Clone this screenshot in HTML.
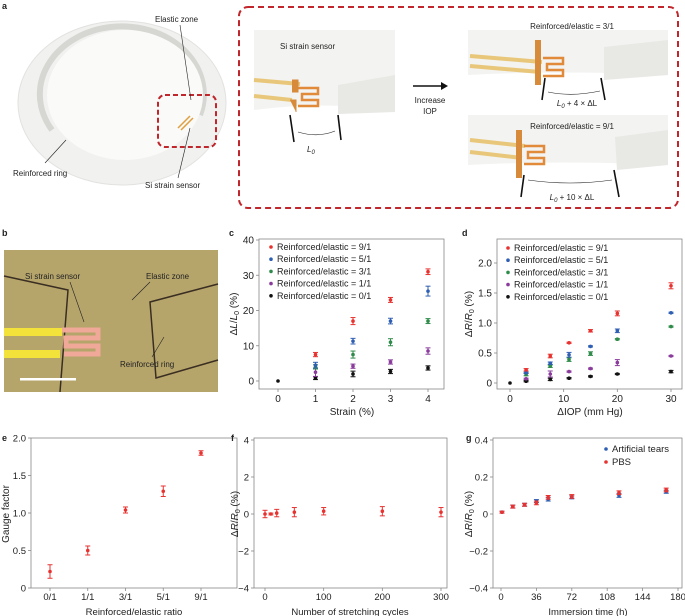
<!DOCTYPE html>
<html><head><meta charset="utf-8">
<style>
body{margin:0;background:#fff;}
svg{display:block;font-family:"Liberation Sans",Arial,sans-serif;}
text{fill:#222;}
</style></head>
<body>
<svg id="fig" width="685" height="616" viewBox="0 0 685 616" xmlns="http://www.w3.org/2000/svg">
<!-- Panel a -->
<g>
<text x="2" y="9" font-size="9" font-weight="bold">a</text>
<ellipse cx="122" cy="103" rx="104" ry="82" fill="#f1f1ef" stroke="#e2e2e0"/>
<path d="M52,130 A82,68 0 1,1 200,115" fill="none" stroke="#d6d6d2" stroke-width="6"/>
<ellipse cx="125" cy="95" rx="78" ry="65" fill="#fafaf9"/>
<rect x="158" y="95" width="58" height="52" rx="7" fill="none" stroke="#c0272d" stroke-width="2" stroke-dasharray="5,3"/>
<path d="M178,128 l12,-12 M181,130 l12,-12" stroke="#e0a040" stroke-width="1.5"/>
<text x="155" y="22" font-size="8">Elastic zone</text>
<line x1="180" y1="25" x2="191" y2="100" stroke="#222" stroke-width="0.6"/>
<text x="145" y="188" font-size="8">Si strain sensor</text>
<line x1="178" y1="178" x2="190" y2="128" stroke="#222" stroke-width="0.6"/>
<text x="13" y="176" font-size="8">Reinforced ring</text>
<line x1="45" y1="163" x2="66" y2="140" stroke="#222" stroke-width="0.6"/>
<rect x="239" y="7" width="439" height="201" rx="9" fill="none" stroke="#c0272d" stroke-width="2" stroke-dasharray="6,4"/>
<path d="M254,30 L395,30 L395,112 Q330,100 254,110 Z" fill="#f3f3f1"/>
<path d="M338,85 L395,75 L395,112 L338,114 Z" fill="#e8e8e5"/>
<path d="M254,80 L300,84 M254,96 L292,100" stroke="#e9c77a" stroke-width="4"/>
<path d="M292,80 h6 v12 h-6 M290,100 h6 v12" fill="#d68a3a" stroke="#d68a3a"/>
<path d="M298,88 h20 v6 h-16 v6 h16 v6 h-20" fill="none" stroke="#e08a3a" stroke-width="2.5"/>
<text x="280" y="49" font-size="8">Si strain sensor</text>
<line x1="290" y1="115" x2="294" y2="142" stroke="#111" stroke-width="1.6"/>
<line x1="338" y1="115" x2="341" y2="140" stroke="#111" stroke-width="1.6"/>
<path d="M298,132 Q318,138 335,131" fill="none" stroke="#222" stroke-width="0.6"/>
<text x="307" y="152" font-size="8" font-style="italic">L<tspan font-size="6" dy="2">0</tspan></text>
<line x1="413" y1="86" x2="443" y2="86" stroke="#111" stroke-width="1.5"/>
<path d="M441,82 L448,86 L441,90 Z" fill="#111"/>
<text x="430" y="103" font-size="8" text-anchor="middle">Increase</text>
<text x="430" y="114" font-size="8" text-anchor="middle">IOP</text>
<path d="M468,30 L668,30 L668,75 Q560,70 468,75 Z" fill="#f3f3f1"/>
<path d="M604,47 L668,40 L668,75 L604,80 Z" fill="#e8e8e5"/>
<path d="M470,56 L542,62 M470,66 L540,72" stroke="#e9c77a" stroke-width="4"/>
<rect x="535" y="40" width="6" height="45" fill="#d68a3a"/>
<path d="M543,58 h20 v6 h-16 v6 h16 v6 h-20" fill="none" stroke="#e08a3a" stroke-width="2.5"/>
<text x="572" y="29" font-size="8" text-anchor="middle">Reinforced/elastic = 3/1</text>
<line x1="545" y1="78" x2="542" y2="100" stroke="#111" stroke-width="1.6"/>
<line x1="601" y1="78" x2="605" y2="100" stroke="#111" stroke-width="1.6"/>
<path d="M548,92 Q572,97 600,91" fill="none" stroke="#222" stroke-width="0.6"/>
<text x="577" y="106" font-size="8" text-anchor="middle" font-style="italic">L<tspan font-size="6" dy="2">0</tspan><tspan dy="-2" font-style="normal"> + 4 × ΔL</tspan></text>
<path d="M468,115 L668,115 L668,165 Q560,160 468,165 Z" fill="#f3f3f1"/>
<path d="M615,137 L668,130 L668,165 L617,170 Z" fill="#e8e8e5"/>
<path d="M470,140 L525,146 M470,152 L522,158" stroke="#e9c77a" stroke-width="4"/>
<rect x="516" y="130" width="6" height="48" fill="#d68a3a"/>
<path d="M524,146 h20 v6 h-16 v6 h16 v6 h-20" fill="none" stroke="#e08a3a" stroke-width="2.5"/>
<text x="572" y="129" font-size="8" text-anchor="middle">Reinforced/elastic = 9/1</text>
<line x1="524" y1="175" x2="521" y2="197" stroke="#111" stroke-width="1.6"/>
<line x1="614" y1="170" x2="619" y2="197" stroke="#111" stroke-width="1.6"/>
<path d="M528,180 Q570,186 612,180" fill="none" stroke="#222" stroke-width="0.6"/>
<text x="572" y="200" font-size="8" text-anchor="middle" font-style="italic">L<tspan font-size="6" dy="2">0</tspan><tspan dy="-2" font-style="normal"> + 10 × ΔL</tspan></text>
</g>
<!-- Panel b -->
<g>
<text x="2" y="236" font-size="9" font-weight="bold">b</text>
<rect x="4" y="250" width="214" height="142" fill="#b6a56b"/>
<path d="M4,276 L68,290 L60,392" fill="none" stroke="#3a2e22" stroke-width="1.5"/>
<path d="M218,284 L150,302 L156,378 L218,360" fill="none" stroke="#3a2e22" stroke-width="1.5"/>
<rect x="4" y="328" width="58" height="8" fill="#f2e23a"/>
<rect x="4" y="350" width="56" height="8" fill="#f2e23a"/>
<path d="M62,330 h36 v8 h-32 v8 h32 v8 h-34" fill="none" stroke="#f0a898" stroke-width="5"/>
<text x="25" y="279" font-size="8" fill="#222">Si strain sensor</text>
<line x1="70" y1="282" x2="84" y2="322" stroke="#222" stroke-width="0.6"/>
<text x="146" y="279" font-size="8">Elastic zone</text>
<line x1="150" y1="282" x2="132" y2="300" stroke="#222" stroke-width="0.6"/>
<text x="120" y="367" font-size="8">Reinforced ring</text>
<line x1="152" y1="357" x2="164" y2="337" stroke="#222" stroke-width="0.6"/>
<rect x="20" y="378" width="56" height="2.5" fill="#fff"/>
</g>
<g id="charts"></g>
</svg>
<script>
// ---- Panel c data ----
const cStrain = [1, 2, 3, 4];
const cR91 = [7.5, 17, 23, 31];
const cR51 = [4.5, 11.3, 17, 25.5];
const cR31 = [4, 7.5, 11, 17];
const cR11 = [2.5, 4.2, 5.4, 8.5];
const cR01 = [0.8, 2, 2.7, 3.7];
const cE91 = [0.6, 1, 0.7, 0.8];
const cE51 = [0.8, 0.8, 0.8, 1.4];
const cE31 = [0.6, 1, 1, 0.7];
const cE11 = [1.2, 0.6, 0.6, 0.9];
const cE01 = [0.4, 0.8, 0.6, 0.6];
const cYTicks = [0, 10, 20, 30, 40];
const cXTicks = [0, 1, 2, 3, 4];
// ---- Panel d data ----
const dIOP = [3, 7.5, 11, 15, 20, 30];
const dR91 = [0.22, 0.45, 0.67, 0.87, 1.16, 1.62];
const dR51 = [0.17, 0.33, 0.47, 0.61, 0.87, 1.17];
const dR31 = [0.14, 0.28, 0.39, 0.49, 0.73, 0.94];
const dR11 = [0.07, 0.15, 0.19, 0.24, 0.34, 0.45];
const dR01 = [0.03, 0.06, 0.08, 0.11, 0.15, 0.19];
const dE91 = [0.02, 0.03, 0.01, 0.02, 0.04, 0.05];
const dE51 = [0.01, 0.02, 0.04, 0.01, 0.03, 0.01];
const dE31 = [0.02, 0.02, 0.03, 0.03, 0.01, 0.01];
const dE11 = [0.01, 0.05, 0.01, 0.01, 0.05, 0.01];
const dE01 = [0.01, 0.02, 0.01, 0.01, 0.01, 0.02];
const dYTicks = [0, 0.5, 1.0, 1.5, 2.0];
const dXTicks = [0, 10, 20, 30];
// ---- Panel e data ----
const eCats = ["0/1", "1/1", "3/1", "5/1", "9/1"];
const eGF = [0.22, 0.5, 1.04, 1.29, 1.8];
const eErr = [0.09, 0.06, 0.04, 0.07, 0.03];
const eYTicks = [0, 0.5, 1.0, 1.5, 2.0];
// ---- Panel f data ----
const fCycles = [0, 10, 20, 50, 100, 200, 300];
const fVals = [0, 0, 0.05, 0.1, 0.15, 0.15, 0.1];
const fErr = [0.2, 0.05, 0.2, 0.25, 0.2, 0.25, 0.25];
const fYTicks = [-4, -2, 0, 2, 4];
const fXTicks = [0, 100, 200, 300];
// ---- Panel g data ----
const gTimes = [1, 12, 24, 36, 48, 72, 120, 168];
const gPBS = [0.01, 0.04, 0.05, 0.06, 0.09, 0.095, 0.115, 0.13];
const gTears = [0.01, 0.04, 0.05, 0.07, 0.08, 0.09, 0.10, 0.12];
const gErrPBS = [0.005, 0.008, 0.008, 0.01, 0.01, 0.01, 0.01, 0.01];
const gErrTears = [0.005, 0.008, 0.008, 0.008, 0.01, 0.008, 0.01, 0.008];
const gYTicks = [-0.4, -0.2, 0, 0.2, 0.4];
const gXTicks = [0, 36, 72, 108, 144, 180];

const RED = "#e8322f", BLUE = "#2f5fb3", GREEN = "#2e8b4a", PURPLE = "#8a3b9c", BLACK = "#111";
const NS = "http://www.w3.org/2000/svg";
const root = document.getElementById("charts");
function mk(tag, attrs, parent) {
  const el = document.createElementNS(NS, tag);
  for (const k in attrs) el.setAttribute(k, attrs[k]);
  (parent || root).appendChild(el);
  return el;
}
function scale(d0, d1, r0, r1) { return v => r0 + (v - d0) * (r1 - r0) / (d1 - d0); }

function axesBox(name, L, T, R, B, xTicks, yTicks, xPos, yPos, xLabelFn, yLabelFn, xLabOff, fs) {
  fs = fs || 10;
  const g = mk("g", {});
  
  
  const box = mk("rect", { x: L, y: T, width: R - L, height: B - T, fill: "none", stroke: "#888", "stroke-width": 0.8 }, g);
  
  
  yTicks.forEach(t => {
    const y = yPos(t);
    mk("line", { x1: L - 3, x2: L, y1: y, y2: y, stroke: "#888", "stroke-width": 0.8 }, g);
    const tx = mk("text", { x: L - 5, y: y + 3.5, "font-size": fs, "text-anchor": "end" }, g);
    tx.textContent = yLabelFn(t);
    
    
  });
  xTicks.forEach((t, i) => {
    const x = xPos(t, i);
    mk("line", { x1: x, x2: x, y1: B, y2: B + 3, stroke: "#888", "stroke-width": 0.8 }, g);
    const tx = mk("text", { x: x, y: B + (xLabOff || 13), "font-size": fs, "text-anchor": "middle" }, g);
    tx.textContent = xLabelFn(t);
    
    
  });
  return g;
}
function point(g, x, v, e, yf, color, name) {
  const grp = mk("g", {}, g);
  
  
  if (e > 0) {
    const y1 = yf(v - e), y2 = yf(v + e);
    mk("line", { x1: x, x2: x, y1: y1, y2: y2, stroke: color, "stroke-width": 1 }, grp);
    mk("line", { x1: x - 2.5, x2: x + 2.5, y1: y1, y2: y1, stroke: color, "stroke-width": 1 }, grp);
    mk("line", { x1: x - 2.5, x2: x + 2.5, y1: y2, y2: y2, stroke: color, "stroke-width": 1 }, grp);
  }
  mk("circle", { cx: x, cy: yf(v), r: 1.8, fill: color }, grp);
}
function txt(s, attrs, name) {
  const t = mk("text", attrs);
  t.textContent = s;
  
  
  return t;
}
function ytitle(x, y, parts, name) {
  const t = mk("text", { x: 0, y: 0, "font-size": 10, "text-anchor": "middle", transform: `translate(${x},${y}) rotate(-90)` });
  t.innerHTML = parts;
  
  
}
function legend(x0, y0, dy, entries, name, fs) {
  entries.forEach((en, i) => {
    const g = mk("g", {});
    
    
    mk("circle", { cx: x0, cy: y0 + i * dy - 3, r: 1.8, fill: en[1] }, g);
    const t = mk("text", { x: x0 + 6, y: y0 + i * dy, "font-size": fs || 10 }, g);
    t.textContent = en[0];
  });
}
const fmt1 = t => t === 0 ? "0" : t.toFixed(1);
const RR = 'Δ<tspan font-style="italic">R</tspan>/<tspan font-style="italic">R</tspan><tspan font-size="7" dy="2">0</tspan><tspan dy="-2"> (%)</tspan>';

// ---- Panel c ----
txt("c", { x: 229, y: 236, "font-size": 9, "font-weight": "bold" }, "panel-label-c");
const cx = scale(0, 4, 278, 428), cyv = scale(0, 40, 381, 240);
const cG = axesBox("chart-c", 259, 239, 444, 389, cXTicks, cYTicks, t => cx(t), cyv, String, String);
[[cR01, cE01, BLACK, "series-0-1"], [cR11, cE11, PURPLE, "series-1-1"], [cR31, cE31, GREEN, "series-3-1"], [cR51, cE51, BLUE, "series-5-1"], [cR91, cE91, RED, "series-9-1"]].forEach(s => {
  cStrain.forEach((v, i) => point(cG, cx(v), s[0][i], s[1][i], cyv, s[2], "c-point-" + s[3]));
});
point(cG, cx(0), 0, 0, cyv, BLACK, "c-point-origin");
legend(271, 250, 12.2, [["Reinforced/elastic = 9/1", RED], ["Reinforced/elastic = 5/1", BLUE], ["Reinforced/elastic = 3/1", GREEN], ["Reinforced/elastic = 1/1", PURPLE], ["Reinforced/elastic = 0/1", BLACK]], "c-legend", 9);
txt("Strain (%)", { x: 352, y: 415, "font-size": 10, "text-anchor": "middle" }, "c-x-axis-title");
ytitle(237, 314, 'Δ<tspan font-style="italic">L</tspan>/<tspan font-style="italic">L</tspan><tspan font-size="7" dy="2">0</tspan><tspan dy="-2"> (%)</tspan>', "c-y-axis-title");

// ---- Panel d ----
txt("d", { x: 462, y: 236, "font-size": 9, "font-weight": "bold" }, "panel-label-d");
const dx = scale(0, 30, 510, 671), dyv = scale(0, 2, 383, 263);
const dG = axesBox("chart-d", 497, 239, 682, 389, dXTicks, dYTicks, t => dx(t), dyv, String, fmt1);
[[dR01, dE01, BLACK, "series-0-1"], [dR11, dE11, PURPLE, "series-1-1"], [dR31, dE31, GREEN, "series-3-1"], [dR51, dE51, BLUE, "series-5-1"], [dR91, dE91, RED, "series-9-1"]].forEach(s => {
  dIOP.forEach((v, i) => point(dG, dx(v), s[0][i], s[1][i], dyv, s[2], "d-point-" + s[3]));
});
point(dG, dx(0), 0, 0, dyv, BLACK, "d-point-origin");
legend(508, 251, 12.2, [["Reinforced/elastic = 9/1", RED], ["Reinforced/elastic = 5/1", BLUE], ["Reinforced/elastic = 3/1", GREEN], ["Reinforced/elastic = 1/1", PURPLE], ["Reinforced/elastic = 0/1", BLACK]], "d-legend", 9);
txt("ΔIOP (mm Hg)", { x: 590, y: 415, "font-size": 10, "text-anchor": "middle" }, "d-x-axis-title");
ytitle(472, 314, RR, "d-y-axis-title");

// ---- Panel e ----
txt("e", { x: 2, y: 441, "font-size": 9, "font-weight": "bold" }, "panel-label-e");
const ex = i => 50 + i * (151 / (eCats.length - 1)), eyv = scale(0, 2, 588, 438);
const eG = axesBox("chart-e", 31, 438, 237, 588, eCats, eYTicks, (t, i) => ex(i), eyv, t => t, fmt1, 12, 9.5);
eGF.forEach((v, i) => point(eG, ex(i), v, eErr[i], eyv, RED, "e-point-" + eCats[i].replace("/", "-")));
txt("Reinforced/elastic ratio", { x: 134, y: 615, "font-size": 9.5, "text-anchor": "middle" }, "e-x-axis-title");
ytitle(9, 514, 'Gauge factor', "e-y-axis-title");

// ---- Panel f ----
txt("f", { x: 231, y: 441, "font-size": 9, "font-weight": "bold" }, "panel-label-f");
const fx = scale(0, 300, 265, 441), fyv = scale(0, 2, 514, 477);
const fG = axesBox("chart-f", 254, 438, 447, 588, fXTicks, fYTicks, t => fx(t), fyv, String, t => t < 0 ? "−" + Math.abs(t) : String(t), 12, 9.5);
fCycles.forEach((v, i) => point(fG, fx(v), fVals[i], fErr[i], fyv, RED, "f-point"));
txt("Number of stretching cycles", { x: 350, y: 615, "font-size": 9.5, "text-anchor": "middle" }, "f-x-axis-title");
ytitle(238, 514, RR, "f-y-axis-title");

// ---- Panel g ----
txt("g", { x: 466, y: 441, "font-size": 9, "font-weight": "bold" }, "panel-label-g");
const gx = scale(0, 180, 501, 678), gyv = scale(0, 0.2, 514, 477);
const gG = axesBox("chart-g", 493, 438, 682, 588, gXTicks, gYTicks, t => gx(t), gyv, String, t => t === 0 ? "0" : (t < 0 ? "−" + Math.abs(t).toFixed(1) : t.toFixed(1)), 12, 9.5);
gTimes.forEach((v, i) => point(gG, gx(v), gTears[i], gErrTears[i], gyv, BLUE, "g-point-tears"));
gTimes.forEach((v, i) => point(gG, gx(v), gPBS[i], gErrPBS[i], gyv, RED, "g-point-pbs"));
legend(606, 452, 13, [["Artificial tears", BLUE], ["PBS", RED]], "g-legend", 9.5);
txt("Immersion time (h)", { x: 588, y: 615, "font-size": 9.5, "text-anchor": "middle" }, "g-x-axis-title");
ytitle(472, 514, RR, "g-y-axis-title");
</script>
</body></html>
